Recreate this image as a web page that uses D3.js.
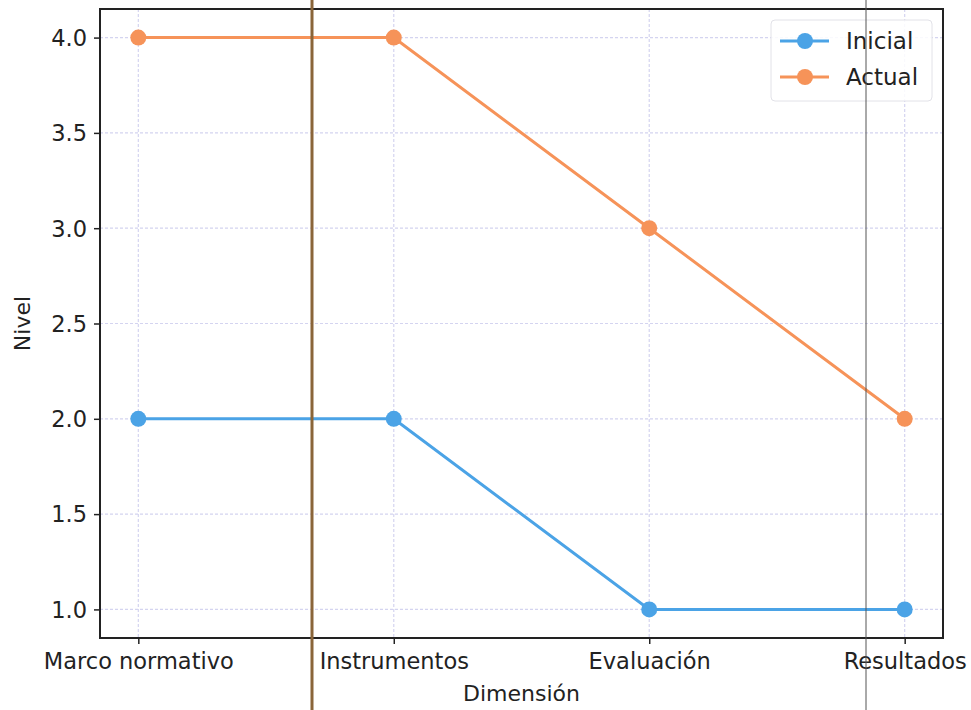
<!DOCTYPE html>
<html><head><meta charset="utf-8">
<script src="https://cdn.jsdelivr.net/npm/d3@7/dist/d3.min.js"></script>
<style>body{margin:0;background:#fff;}svg{display:block;font-family:"DejaVu Sans",sans-serif;}</style>
</head><body><svg id="c" width="971" height="710"></svg>
<script>
const categories = ["Marco normativo","Instrumentos","Evaluación","Resultados"];
const inicial = [2,2,1,1];
const actual = [4,4,3,2];
const yTicks = [1.0,1.5,2.0,2.5,3.0,3.5,4.0];
const seriesNames = ["Inicial","Actual"];
const colors = ["#4ba3e6","#f69359"];

const svg = d3.select("#c");
const L=100,T=9,R=943,B=638;
const x = d3.scaleLinear().domain([-0.15,3.15]).range([L,R]);
const y = d3.scaleLinear().domain([0.85,4.15]).range([B,T]);

// grid
const g = svg.append("g");
g.selectAll(".gx").data(categories).enter().append("line")
 .attr("x1",(d,i)=>x(i)).attr("x2",(d,i)=>x(i)).attr("y1",T).attr("y2",B)
 .attr("stroke","#d4d4f0").attr("stroke-width",1.2).attr("stroke-dasharray","3,2");
g.selectAll(".gy").data(yTicks).enter().append("line")
 .attr("x1",L).attr("x2",R).attr("y1",d=>y(d)).attr("y2",d=>y(d))
 .attr("stroke","#d4d4f0").attr("stroke-width",1.2).attr("stroke-dasharray","3,2");

// axes
const xa = svg.append("g").attr("transform",`translate(0,${B})`)
 .call(d3.axisBottom(x).tickValues([0,1,2,3]).tickFormat(i=>categories[i]).tickSize(6).tickPadding(5));
const ya = svg.append("g").attr("transform",`translate(${L},0)`)
 .call(d3.axisLeft(y).tickValues(yTicks).tickFormat(d3.format(".1f")).tickSize(6).tickPadding(7));
[xa,ya].forEach(a=>{a.select(".domain").remove();a.selectAll("text").attr("font-size",22.5).attr("fill","#222").attr("font-family","DejaVu Sans");a.selectAll("line").attr("stroke","#222").attr("stroke-width",1.5);});
xa.selectAll("text").attr("dy","0.9em");
ya.selectAll("text").attr("dy","0.35em");

// frame
svg.append("rect").attr("x",L).attr("y",T).attr("width",R-L).attr("height",B-T)
 .attr("fill","none").attr("stroke","#222").attr("stroke-width",2);

// lines
const line = d3.line().x((d,i)=>x(i)).y(d=>y(d));
[inicial,actual].forEach((s,k)=>{
 svg.append("path").datum(s).attr("d",line).attr("fill","none").attr("stroke",colors[k]).attr("stroke-width",3);
 svg.selectAll(".m"+k).data(s).enter().append("circle").attr("cx",(d,i)=>x(i)).attr("cy",d=>y(d)).attr("r",8).attr("fill",colors[k]);
});

// labels
svg.append("text").attr("x",(L+R)/2).attr("y",701).attr("text-anchor","middle").attr("font-size",22).attr("fill","#222").text("Dimensión");
svg.append("text").attr("transform",`translate(30,${(T+B)/2}) rotate(-90)`).attr("text-anchor","middle").attr("font-size",22).attr("fill","#222").text("Nivel");

// legend
const lg = svg.append("g");
lg.append("rect").attr("x",771).attr("y",20).attr("width",161).attr("height",81).attr("rx",4)
 .attr("fill","#fff").attr("fill-opacity",0.85).attr("stroke","#e2e2e8");
seriesNames.forEach((n,k)=>{
 const yy = 41+k*36;
 lg.append("line").attr("x1",780).attr("x2",829).attr("y1",yy).attr("y2",yy).attr("stroke",colors[k]).attr("stroke-width",3);
 lg.append("circle").attr("cx",805).attr("cy",yy).attr("r",8).attr("fill",colors[k]);
 lg.append("text").attr("x",846).attr("y",yy).attr("dy","0.35em").attr("font-size",23).attr("fill","#222").text(n);
});

// scan artifacts (vertical lines in the photographed page)
svg.append("line").attr("x1",312).attr("x2",312).attr("y1",0).attr("y2",710).attr("stroke","#8a6539").attr("stroke-width",3);
svg.append("line").attr("x1",866).attr("x2",866).attr("y1",0).attr("y2",710).attr("stroke","#555").attr("stroke-width",1);
</script></body></html>
